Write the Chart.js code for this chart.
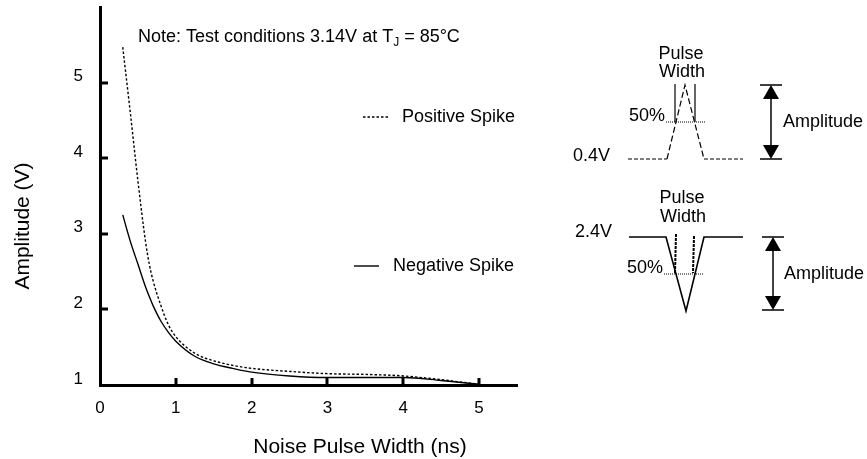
<!DOCTYPE html>
<html><head><meta charset="utf-8">
<script src="https://cdn.jsdelivr.net/npm/chart.js@4.4.1/dist/chart.umd.min.js"></script>
<style>html,body{margin:0;padding:0;background:#fff;}canvas{display:block;}</style>
</head><body>
<canvas id="c" width="867" height="459"></canvas>
<script>
// ---- data ----
const pulseWidthNs   = [0.3, 0.4, 0.5, 0.6, 0.65, 0.7, 0.8, 0.9, 1.0, 1.25, 1.5, 1.75, 2.0, 2.5, 3.0, 3.5, 4.0, 4.5, 5.0];
const positiveSpikeV = [5.47, 4.6, 3.7, 2.9, 2.6, 2.38, 2.06, 1.8, 1.64, 1.42, 1.32, 1.26, 1.22, 1.18, 1.15, 1.14, 1.12, 1.07, 1.01];
const negativeSpikeV = [3.25, 2.9, 2.6, 2.3, 2.17, 2.05, 1.85, 1.7, 1.58, 1.38, 1.28, 1.22, 1.17, 1.12, 1.10, 1.10, 1.10, 1.06, 1.01];
const xTickValues = [0, 1, 2, 3, 4, 5];
const yTickValues = [1, 2, 3, 4, 5];
const seriesNames = ['Positive Spike', 'Negative Spike'];
const xTitle = 'Noise Pulse Width (ns)';
const yTitle = 'Amplitude (V)';

const FONT = "'Liberation Sans', Arial, Helvetica, sans-serif";

const toPts = (xs, ys) => xs.map((x, i) => ({x, y: ys[i]}));

const decor = {
  id: 'decor',
  afterDraw(chart) {
    const ctx = chart.ctx;
    const xs = chart.scales.x, ys = chart.scales.y;
    const ca = chart.chartArea;
    ctx.save();
    // inward tick marks
    ctx.strokeStyle = '#000'; ctx.lineWidth = 3; ctx.lineCap = 'butt';
    xTickValues.forEach(v => {
      if (v === xs.min) return;
      const px = Math.round(xs.getPixelForValue(v));
      ctx.beginPath(); ctx.moveTo(px, ca.bottom); ctx.lineTo(px, ca.bottom - 7); ctx.stroke();
    });
    yTickValues.forEach(v => {
      if (v === ys.min) return;
      const py = Math.round(ys.getPixelForValue(v));
      ctx.beginPath(); ctx.moveTo(ca.left, py); ctx.lineTo(ca.left + 8, py); ctx.stroke();
    });

    ctx.fillStyle = '#000';
    // axis titles
    ctx.font = '21px ' + FONT;
    ctx.textAlign = 'center'; ctx.textBaseline = 'alphabetic';
    ctx.fillText(xTitle, 360, 453);
    ctx.save();
    ctx.translate(29, 226); ctx.rotate(-Math.PI / 2);
    ctx.fillText(yTitle, 0, 0);
    ctx.restore();

    // note
    ctx.textAlign = 'left'; ctx.textBaseline = 'alphabetic';
    ctx.font = '18px ' + FONT;
    let nx = 138; const ny = 42;
    const seg1 = 'Note: Test conditions 3.14V at T';
    ctx.fillText(seg1, nx, ny); nx += ctx.measureText(seg1).width;
    ctx.font = '12px ' + FONT;
    ctx.fillText('J', nx, ny + 4); nx += ctx.measureText('J').width;
    ctx.font = '18px ' + FONT;
    ctx.fillText(' = 85°C', nx, ny);

    // legend
    const legendPos = [{lx0: 363, lx1: 388, y: 117, tx: 402}, {lx0: 354, lx1: 379, y: 266, tx: 393}];
    chart.data.datasets.forEach((ds, i) => {
      const p = legendPos[i];
      ctx.save();
      ctx.strokeStyle = ds.borderColor; ctx.lineWidth = ds.borderWidth;
      ctx.setLineDash(ds.borderDash || []);
      ctx.beginPath(); ctx.moveTo(p.lx0, p.y); ctx.lineTo(p.lx1, p.y); ctx.stroke();
      ctx.restore();
      ctx.font = '18px ' + FONT; ctx.textBaseline = 'middle'; ctx.textAlign = 'left';
      ctx.fillText(ds.label, p.tx, p.y);
    });

    // ---- pulse diagrams ----
    const line = (pts, w, dash) => {
      ctx.save(); ctx.lineWidth = w; ctx.setLineDash(dash || []);
      ctx.beginPath(); ctx.moveTo(pts[0][0], pts[0][1]);
      for (let k = 1; k < pts.length; k++) ctx.lineTo(pts[k][0], pts[k][1]);
      ctx.stroke(); ctx.restore();
    };
    const text = (s, x, y, align) => {
      ctx.font = '18px ' + FONT; ctx.textAlign = align || 'center'; ctx.textBaseline = 'middle';
      ctx.fillText(s, x, y);
    };
    const arrow = (x, yTop, yBot) => {
      line([[x - 11, yTop], [x + 11, yTop]], 1.5);
      line([[x - 11, yBot], [x + 11, yBot]], 1.5);
      line([[x, yTop + 8], [x, yBot - 8]], 1.5);
      ctx.beginPath(); ctx.moveTo(x, yTop); ctx.lineTo(x - 8, yTop + 14); ctx.lineTo(x + 8, yTop + 14); ctx.closePath(); ctx.fill();
      ctx.beginPath(); ctx.moveTo(x, yBot); ctx.lineTo(x - 8, yBot - 14); ctx.lineTo(x + 8, yBot - 14); ctx.closePath(); ctx.fill();
    };
    ctx.strokeStyle = '#000';
    // positive
    text('Pulse', 681, 54); text('Width', 682, 72);
    line([[628, 159], [667, 159]], 1.2, [4, 2]);
    line([[667, 159], [685, 85], [704, 159]], 1.2, [6, 3]);
    line([[704, 159], [743, 159]], 1.2, [4, 2]);
    line([[675, 84], [675, 122]], 1.2);
    line([[695, 84], [695, 122]], 1.2);
    line([[666, 122], [705, 122]], 1, [1, 1]);
    text('50%', 629, 116, 'left');
    text('0.4V', 573, 156, 'left');
    arrow(771, 85, 159);
    text('Amplitude', 783, 122, 'left');
    // negative
    text('Pulse', 682, 198); text('Width', 683, 217);
    text('2.4V', 575, 232, 'left');
    line([[629, 237], [666, 237], [686, 311], [704, 237], [743, 237]], 1.6);
    line([[676, 234], [675, 273]], 2, [3, 1]);
    line([[694, 236], [693, 273]], 2, [3, 1]);
    line([[664, 274], [704, 274]], 1, [1, 1]);
    text('50%', 627, 268, 'left');
    arrow(773, 237, 310);
    text('Amplitude', 784, 274, 'left');
    ctx.restore();
  }
};

new Chart(document.getElementById('c'), {
  type: 'line',
  data: {
    datasets: [
      { label: seriesNames[0], data: toPts(pulseWidthNs, positiveSpikeV), borderColor: '#000', borderWidth: 1.4, borderDash: [2.5, 2], pointRadius: 0, cubicInterpolationMode: 'monotone', fill: false },
      { label: seriesNames[1], data: toPts(pulseWidthNs, negativeSpikeV), borderColor: '#000', borderWidth: 1.4, pointRadius: 0, cubicInterpolationMode: 'monotone', fill: false }
    ]
  },
  options: {
    responsive: false, devicePixelRatio: 1, animation: false,
    layout: { padding: { left: 0, top: 7, right: 350, bottom: 0 } },
    plugins: { legend: { display: false }, title: { display: false }, tooltip: { enabled: false } },
    scales: {
      x: {
        type: 'linear', min: 0, max: 5.5,
        afterBuildTicks: s => { s.ticks = xTickValues.map(v => ({value: v})); },
        afterFit: s => { s.height = 74; s.paddingLeft = 0; s.paddingRight = 0; },
        grid: { display: false, drawTicks: false },
        border: { display: true, color: '#000', width: 3 },
        ticks: { color: '#000', font: { family: FONT, size: 17 }, padding: 13, maxRotation: 0, autoSkip: false, callback: v => String(v) }
      },
      y: {
        type: 'linear', min: 1, max: 6,
        afterBuildTicks: s => { s.ticks = yTickValues.map(v => ({value: v})); },
        afterFit: s => { s.width = 100; s.paddingTop = 0; s.paddingBottom = 0; },
        grid: { display: false, drawTicks: false },
        border: { display: true, color: '#000', width: 3 },
        ticks: { color: '#000', font: { family: FONT, size: 17 }, padding: 17, labelOffset: -6, autoSkip: false, callback: v => String(v) }
      }
    }
  },
  plugins: [decor]
});
</script>
</body></html>
